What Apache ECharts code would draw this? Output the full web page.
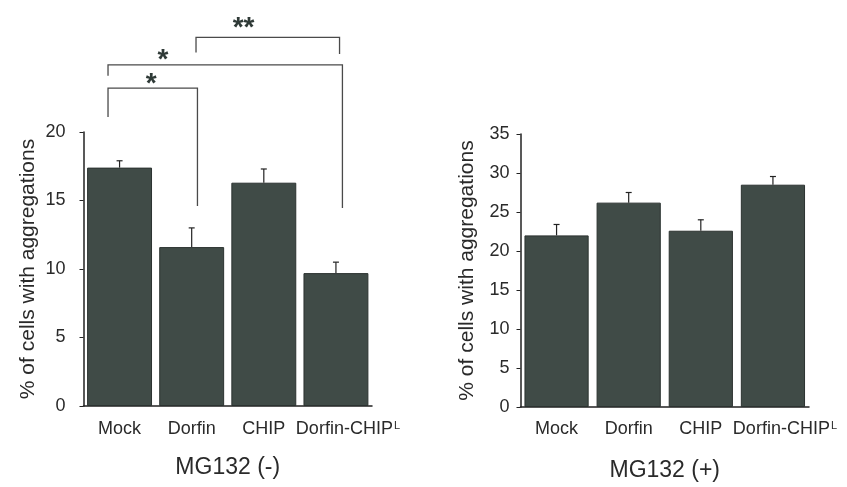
<!DOCTYPE html>
<html><head><meta charset="utf-8">
<script src="https://cdn.jsdelivr.net/npm/echarts@6/dist/echarts.min.js"></script>
<style>html,body{margin:0;padding:0;background:#fff}#c{width:847px;height:487px}</style>
</head><body><div id="c"></div>
<script>
// ---- data ----
const categories = ['Mock', 'Dorfin', 'CHIP', 'Dorfin-CHIP^L'];
const minusValues = [17.4, 11.6, 16.3, 9.7];
const minusErrors = [0.5, 1.4, 1.0, 0.8];
const plusValues = [22.0, 26.2, 22.6, 28.5];
const plusErrors = [1.4, 1.3, 1.4, 1.05];
const minusTicks = [0, 5, 10, 15, 20];
const plusTicks = [0, 5, 10, 15, 20, 25, 30, 35];
const yTitle = '% of cells with aggregations';
const minusTitle = 'MG132 (-)';
const plusTitle = 'MG132 (+)';
// significance brackets: [fromX, toX, topY, leftEndY, rightEndY]
const brackets = [
  [-0.16, 1.08, 23.2, 21.1, 14.6],
  [-0.16, 3.09, 24.9, 24.1, 14.45],
  [1.06, 3.05, 26.9, 25.8, 25.7]
];
// star labels: [x, y, text]
const stars = [
  [0.44, 23.5, '*'],
  [0.60, 25.2, '*'],
  [1.72, 27.6, '**']
];

const FONT = 'Liberation Sans, Arial, sans-serif';
const TXT = '#2a2a2a';
const BAR = '#404b47';

function catFmt(v) {
  const parts = v.split('^');
  return parts.length > 1 ? '{b|' + parts[0] + '}{s|' + parts[1] + '}' : '{a|' + v + '}';
}
const catRich = {
  a: {fontSize: 18, fontFamily: FONT, color: TXT},
  b: {fontSize: 18, fontFamily: FONT, color: TXT, padding: [0, 0, 0, 24]},
  s: {fontSize: 11, fontFamily: FONT, color: TXT, verticalAlign: 'top', padding: [0, 0, 8, 1]}
};

function catAxis(grid, name, margin, gap) {
  return {
    type: 'category', gridIndex: grid, data: categories,
    name: name, nameLocation: 'middle', nameGap: gap,
    nameTextStyle: {fontSize: 23, fontFamily: FONT, color: TXT},
    axisLine: {lineStyle: {color: '#222', width: 1.5}},
    axisTick: {alignWithLabel: true, length: 4, lineStyle: {color: '#222'}},
    axisLabel: {margin: margin, formatter: catFmt, rich: catRich, interval: 0}
  };
}
function valAxis(grid, ticks, margin, gap) {
  return {
    type: 'value', gridIndex: grid, min: ticks[0], max: ticks[ticks.length - 1],
    interval: ticks[1] - ticks[0],
    name: yTitle, nameLocation: 'middle', nameGap: gap, nameRotate: 90,
    nameTextStyle: {fontSize: 21, fontFamily: FONT, color: TXT},
    axisLine: {show: true, onZero: false, lineStyle: {color: '#222', width: 1.5}},
    axisTick: {show: true, length: 4, lineStyle: {color: '#222'}},
    splitLine: {show: false},
    axisLabel: {margin: margin, fontSize: 18, fontFamily: FONT, color: TXT}
  };
}
function errSeries(xi, yi, vals, errs) {
  return {
    type: 'custom', xAxisIndex: xi, yAxisIndex: yi, z: 5,
    data: vals.map((v, i) => [i, v, errs[i]]),
    renderItem: function (params, api) {
      const i = api.value(0), v = api.value(1), e = api.value(2);
      const p0 = api.coord([i, v]);
      const p1 = api.coord([i, v + e]);
      const st = {stroke: '#222', lineWidth: 1.2};
      return {type: 'group', children: [
        {type: 'line', shape: {x1: p0[0], y1: p0[1], x2: p1[0], y2: p1[1]}, style: st},
        {type: 'line', shape: {x1: p1[0] - 3, y1: p1[1], x2: p1[0] + 3, y2: p1[1]}, style: st}
      ]};
    }
  };
}

const option = {
  animation: false,
  backgroundColor: '#fff',
  grid: [
    {left: 83.5, right: 475, top: 132, bottom: 81},
    {left: 520.5, right: 38, top: 134, bottom: 78}
  ],
  xAxis: [
    catAxis(0, minusTitle, 14, 50),
    catAxis(1, plusTitle, 13, 52),
    {type: 'value', gridIndex: 0, min: -0.5, max: 3.5, show: false}
  ],
  yAxis: [
    valAxis(0, minusTicks, 18, 45),
    valAxis(1, plusTicks, 11, 43)
  ],
  series: [
    {type: 'bar', xAxisIndex: 0, yAxisIndex: 0, data: minusValues, barCategoryGap: '10%',
      itemStyle: {color: BAR, borderColor: '#2b3230', borderWidth: 1}},
    {type: 'bar', xAxisIndex: 1, yAxisIndex: 1, data: plusValues, barCategoryGap: '11%',
      itemStyle: {color: BAR, borderColor: '#2b3230', borderWidth: 1}},
    errSeries(0, 0, minusValues, minusErrors),
    errSeries(1, 1, plusValues, plusErrors),
    {
      type: 'custom', xAxisIndex: 2, yAxisIndex: 0, clip: false, z: 6,
      data: brackets,
      renderItem: function (params, api) {
        const x1 = api.value(0), x2 = api.value(1), yt = api.value(2), yl = api.value(3), yr = api.value(4);
        const a = api.coord([x1, yl]), b = api.coord([x1, yt]), c = api.coord([x2, yt]), d = api.coord([x2, yr]);
        return {type: 'polyline', shape: {points: [a, b, c, d]},
          style: {stroke: '#4a4a4a', lineWidth: 1.3, fill: null}};
      }
    },
    {
      type: 'custom', xAxisIndex: 2, yAxisIndex: 0, clip: false, z: 6,
      data: stars,
      renderItem: function (params, api) {
        const p = api.coord([api.value(0), api.value(1)]);
        return {type: 'text', x: p[0], y: p[1],
          style: {text: stars[params.dataIndex][2], fontSize: 28, fontWeight: 'bold', fontFamily: FONT,
            fill: '#2f3a37', align: 'center', verticalAlign: 'middle'}};
      }
    }
  ]
};
const chart = echarts.init(document.getElementById('c'), null, {renderer: 'canvas'});
chart.setOption(option);
</script></body></html>
